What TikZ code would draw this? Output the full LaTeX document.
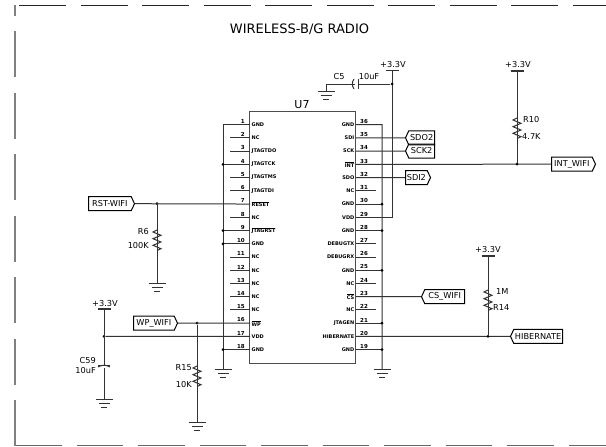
\documentclass[tikz,border=0pt]{standalone}
\usepackage{fontspec}
\setmainfont{DejaVu Sans}
\usetikzlibrary{shapes.symbols}
\tikzset{
    wire/.style={line width=1pt, black!80},
    dotmark/.style={circle, fill=black, inner sep=0pt, minimum size=3pt},
    pinname/.style={font=\fontsize{5}{6}\selectfont\bfseries, inner sep=0pt},
    pinnum/.style={font=\fontsize{5.5}{6}\selectfont\bfseries, inner sep=0pt},
    partlabel/.style={font=\fontsize{8.2}{9}\selectfont, inner sep=0pt},
    tagbase/.style={draw, line width=1pt, signal, inner sep=0pt, font=\fontsize{8.2}{9}\selectfont,
        minimum height=14pt, signal pointer angle=130},
    tagr/.style={tagbase, signal to=east, anchor=west},
    tagl/.style={tagbase, signal to=west, anchor=east},
    gnd/.pic={
        \draw[line width=1pt, black!80] (-8.5,0) -- (8.5,0) (-5.5,4) -- (5.5,4) (-3,8) -- (3,8);
    },
    supply/.pic={
        \draw[line width=1.4pt, black!80] (-6.5,0) -- (6.5,0);
    },
    zigzag/.pic={
        \draw[wire] (0,0) -- (-4,2) -- (4,5.3) -- (-4,8.7) -- (4,12) -- (-4,15.3) -- (4,18.7) -- (0,20.5);
    },
}
\begin{document}
\begin{tikzpicture}[x=1pt, y=-1pt]
    \useasboundingbox (0,0) rectangle (606,447);
    % frame
    \foreach \x in {0,...,9}{
        \draw[line width=1pt, black!85] ({19+61.5*\x},5.2) -- ({min(66+61.5*\x,606)},5.2);
    }
    \foreach \x in {0,...,9}{
        \draw[line width=1pt, black!60] ({15+61.5*\x},445.5) -- ({min(61.5+61.5*\x,606)},445.5);
    }
    \foreach \y in {0,...,6}{
        \draw[line width=1.6pt, black!50] (15,{400-61.5*\y}) -- (15,{446-61.5*\y});
    }
    \draw[line width=1.6pt, black!50] (15,5) -- (15,16);

    \node[font=\fontsize{13}{14}\selectfont, inner sep=0pt] (title) at (299.5,29) {WIRELESS-B/G RADIO};

    % chip
    \node[draw, line width=1pt, black!70, minimum width=106pt, minimum height=252pt, inner sep=0pt] (chip) at (302.7,237) {};
    \node[font=\fontsize{11}{12}\selectfont, inner sep=0pt] (chipname) at (302,105) {U7};
    \foreach \n in {1,...,18}{
        \coordinate (pl\n) at (250,{124.6+13.24*(\n-1)});
        \coordinate (pr\n) at (356,{349.7-13.24*(\n-1)});
    }
    \foreach \n/\t in {1/GND,2/NC,3/JTAGTDO,4/JTAGTCK,5/JTAGTMS,6/JTAGTDI,7/$\overline{\mbox{RESET}}$,8/NC,9/$\overline{\mbox{JTAGRST}}$,
        10/GND,11/NC,12/NC,13/NC,14/NC,15/NC,16/$\overline{\mbox{WP}}$,17/VDD,18/GND}{
        \node[pinname, anchor=west] (ln\n) at ([xshift=1.5pt]pl\n) {\t};
        \node[pinnum, anchor=south east] (lk\n) at ([xshift=-5pt,yshift=1pt]pl\n) {\n};
    }
    \foreach \n/\m/\t in {1/19/GND,2/20/HIBERNATE,3/21/JTAGEN,4/22/NC,5/23/$\overline{\mbox{CS}}$,6/24/NC,7/25/GND,8/26/DEBUGRX,9/27/DEBUGTX,
        10/28/GND,11/29/VDD,12/30/GND,13/31/NC,14/32/SDO,15/33/$\overline{\mbox{INT}}$,16/34/SCK,17/35/SDI,18/36/GND}{
        \node[pinname, anchor=east] (rn\n) at ([xshift=-1.5pt]pr\n) {\t};
        \node[pinnum, anchor=south west] (rk\n) at ([xshift=4pt,yshift=1pt]pr\n) {\m};
    }

    % rails
    \coordinate (lrail) at (223,124.6);
    \coordinate (rrail) at (382,124.6);
    \coordinate (lgnd) at (223,369);
    \coordinate (rgnd) at (382,369);
    \draw[wire] (pl1) -- (lrail) -- (lgnd) pic {gnd};
    \draw[wire] (pr18) -- (rrail) -- (rgnd) pic {gnd};
    \foreach \n in {4,9,10,18}{
        \draw[wire] (pl\n) -- (pl\n -| lrail) node[dotmark] {};
    }
    \foreach \n in {1,7,10,12,3}{
        \draw[wire] (pr\n) -- (pr\n -| rrail) node[dotmark] {};
    }
    \foreach \n in {2,3,5,6,8,11,12,13,14,15}{
        \coordinate (sl\n) at (230,0);
        \draw[wire] (pl\n) -- (pl\n -| sl\n);
    }
    \foreach \n in {4,6,8,9,13}{
        \coordinate (sr\n) at (376,0);
        \draw[wire] (pr\n) -- (pr\n -| sr\n);
    }

    % C5 and supply
    \coordinate (vchip) at (392,70.7);
    \coordinate (c5j) at (392,84);
    \coordinate (c5gnd) at (326,91);
    \coordinate (c5a) at (355,84);
    \coordinate (c5b) at (358,84);
    \draw[wire] (vchip) pic {supply} -- (vchip |- pr11) -- (pr11);
    \node[dotmark] (c5dot) at (c5j) {};
    \draw[wire] (c5dot) -- (c5b);
    \draw[wire] (c5a) -- (c5a -| c5gnd) -- (c5gnd) pic {gnd};
    \draw[wire] ([yshift=-5pt]c5b) -- ([yshift=5pt]c5b);
    \draw[wire] ([yshift=-5pt,xshift=-1pt]c5a) to[bend left=35] ([yshift=5pt,xshift=-1pt]c5a);
    \node[partlabel] (c5name) at (339,77) {C5};
    \node[partlabel] (c5val) at (369,77) {10uF};
    \node[partlabel] (c5v) at (393,65) {+3.3V};

    % tags on the right of the chip
    \node[tagl, minimum width=29pt] (sdo2) at (435,137.8) {SDO2};
    \node[tagl, minimum width=29pt] (sck2) at (435,151) {SCK2};
    \node[tagr, minimum width=25pt] (sdi2) at (405,177.6) {SDI2};
    \node[tagr, minimum width=44pt] (intw) at (551,164.2) {INT\_WIFI};
    \node[tagl, minimum width=43pt] (csw) at (465,296.7) {CS\_WIFI};
    \node[tagl, minimum width=52pt] (hib) at (563,336.4) {HIBERNATE};
    \draw[wire] (pr17) -- (sdo2.west);
    \draw[wire] (pr16) -- (sck2.west);
    \draw[wire] (pr14) -- (sdi2.west);
    \draw[wire] (pr15) -- (intw.west);
    \draw[wire] (pr5) -- (csw.west);
    \draw[wire] (pr2) -- (hib.west);

    % R10
    \coordinate (r10v) at (517,71);
    \coordinate (r10t) at (517,118);
    \node[dotmark] (r10dot) at (517,164.2) {};
    \draw[wire] (r10v) pic {supply} -- (r10t) pic {zigzag};
    \draw[wire] ([yshift=20.5pt]r10t) -- (r10dot);
    \node[partlabel] (r10v2) at (518,65) {+3.3V};
    \node[partlabel, anchor=west] (r10name) at (523,120) {R10};
    \node[partlabel, anchor=west] (r10val) at (522,137) {4.7K};

    % R14
    \coordinate (r14v) at (488,256);
    \coordinate (r14t) at (488,290);
    \node[dotmark] (r14dot) at (488,336.4) {};
    \draw[wire] (r14v) pic {supply} -- (r14t) pic {zigzag};
    \draw[wire] ([yshift=20.5pt]r14t) -- (r14dot);
    \node[partlabel] (r14v2) at (488,250) {+3.3V};
    \node[partlabel, anchor=west] (r14val) at (496,292) {1M};
    \node[partlabel, anchor=west] (r14name) at (493,308) {R14};

    % R6
    \node[tagr, minimum width=46pt] (rst) at (88,203.7) {RST-WIFI};
    \node[dotmark] (r6dot) at (157,203.7) {};
    \coordinate (r6t) at (157,230);
    \coordinate (r6g) at (157,283);
    \draw[wire] (rst.east) -- (pl7);
    \draw[wire] (r6dot) -- (r6t) pic {zigzag};
    \draw[wire] ([yshift=20.5pt]r6t) -- (r6g) pic {gnd};
    \node[partlabel, anchor=east] (r6name) at (149,232) {R6};
    \node[partlabel, anchor=east] (r6val) at (149,246) {100K};

    % C59
    \coordinate (c59v) at (104,309);
    \node[dotmark] (c59dot) at (104,336.4) {};
    \coordinate (c59a) at (104,365);
    \coordinate (c59b) at (104,368);
    \coordinate (c59g) at (104,399);
    \draw[wire] (c59v) pic {supply} -- (c59a);
    \draw[wire] (c59b) -- (c59g) pic {gnd};
    \draw[wire] (c59dot) -- (pl17);
    \draw[wire] ([xshift=-6pt]c59a) -- ([xshift=6pt]c59a);
    \draw[wire] ([xshift=-6pt,yshift=1pt]c59b) to[bend left=30] ([xshift=6pt,yshift=1pt]c59b);
    \node[partlabel] (c59v2) at (105,304) {+3.3V};
    \node[partlabel, anchor=east] (c59name) at (96,361) {C59};
    \node[partlabel, anchor=east] (c59val) at (96,371) {10uF};

    % R15
    \node[tagr, minimum width=44pt] (wp) at (133,323.2) {WP\_WIFI};
    \node[dotmark] (r15dot) at (197,323.2) {};
    \coordinate (r15t) at (197,366);
    \coordinate (r15g) at (197,422);
    \draw[wire] (wp.east) -- (pl16);
    \draw[wire] (r15dot) -- (r15t) pic {zigzag};
    \draw[wire] ([yshift=20.5pt]r15t) -- (r15g) pic {gnd};
    \node[partlabel, anchor=east] (r15name) at (192,368) {R15};
    \node[partlabel, anchor=east] (r15val) at (192,385) {10K};
\end{tikzpicture}
\end{document}
